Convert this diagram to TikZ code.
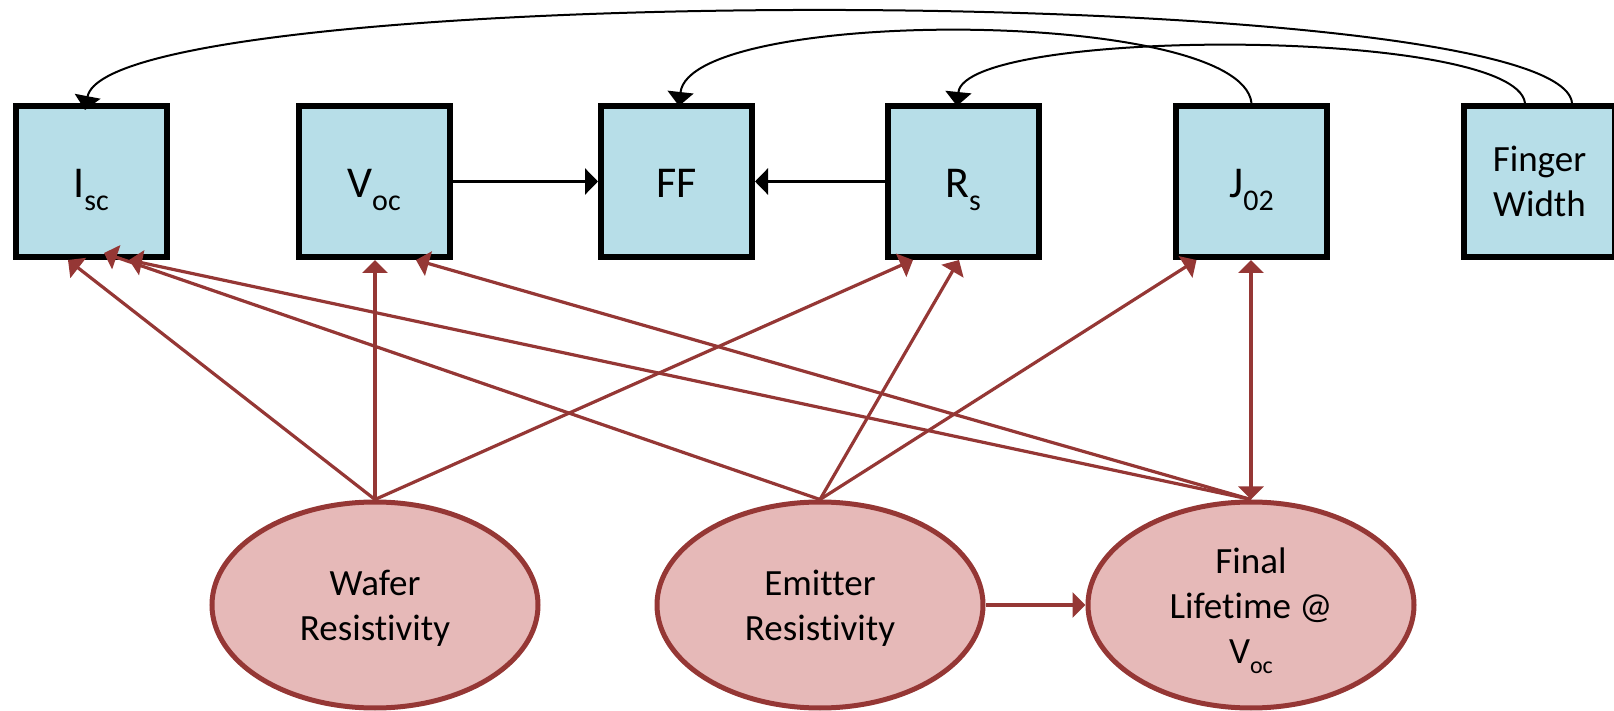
\documentclass[tikz,border=0pt]{standalone}
\usepackage{fontspec}
\setmainfont[Ligatures=NoCommon]{Carlito}
\usetikzlibrary{arrows.meta,shapes.geometric}
\definecolor{boxfill}{HTML}{B7DEE8}
\definecolor{redline}{HTML}{953735}
\definecolor{ellfill}{HTML}{E6B9B8}
\newcommand\subB[1]{\raisebox{-6.5pt}{\fontsize{15pt}{15pt}\selectfont #1}}
\newcommand\subE[1]{\raisebox{-5pt}{\fontsize{12pt}{12pt}\selectfont #1}}
\begin{document}
\begin{tikzpicture}[x=0.5pt,y=-0.5pt,
  boxbase/.style={draw=black, line width=3pt, fill=boxfill, rectangle,
    minimum width=75.5pt, minimum height=75.5pt, inner sep=0pt},
  varbox/.style={boxbase, font=\fontsize{22pt}{26pt}\selectfont,
    text height=16.5pt, text depth=0pt},
  varboxml/.style={boxbase, font=\fontsize{18.5pt}{22.5pt}\selectfont, align=center},
  causeell/.style={ellipse, draw=redline, line width=2.5pt, fill=ellfill,
    minimum width=163pt, minimum height=103pt, inner sep=0pt, align=center,
    font=\fontsize{18.5pt}{22.5pt}\selectfont},
  redarr/.style={draw=redline, line width=1.6pt, -{Triangle[length=6.5pt,width=12.5pt]}},
  redboth/.style={draw=redline, line width=1.6pt, {Triangle[length=6.5pt,width=12.5pt]}-{Triangle[length=6.5pt,width=12.5pt]}},
  blkarr/.style={draw=black, line width=1.35pt, -{Triangle[length=6.5pt,width=13pt]}},
  curvarr/.style={draw=black, line width=1pt, -{Triangle[length=7pt,width=13pt]}}
]
\useasboundingbox (0,0) rectangle (1614,711);
\clip (0,0) rectangle (1614,711);

% top variables
\node[varbox] (isc) at (91,181.5) {I\subB{sc}};
\node[varbox] (voc) at (374,181.5) {V\subB{oc}};
\node[varbox] (ff) at (676.5,181.5) {FF};
\node[varbox] (rs) at (963,181.5) {R\subB{s}};
\node[varbox] (j02) at (1251.5,181.5) {J\subB{02}};
\node[varboxml] (fw) at (1539.5,181.5) {\rule{0pt}{17pt}Finger\\Width\rule[-4pt]{0pt}{4pt}};

% causes
\node[causeell] (wafer) at (375,605) {\rule{0pt}{17pt}Wafer\\Resistivity\rule[-4pt]{0pt}{4pt}};
\node[causeell] (emit) at (820,605) {\rule{0pt}{17pt}Emitter\\Resistivity\rule[-4pt]{0pt}{4pt}};
\node[causeell] (final) at (1251,605) {\rule{0pt}{19pt}Final\\Lifetime @\\V\subE{oc}\rule[-6pt]{0pt}{6pt}};

% red connectors
\draw[redarr] (wafer.north) -- ([xshift=-11.5pt]isc.south);
\draw[redarr] (wafer.north) -- (wafer.north |- voc.south);
\draw[redarr] (wafer.north) -- ([xshift=-25pt]rs.south);
\draw[redarr] (emit.north) -- ([xshift=6.5pt,yshift=3.5pt]isc.south);
\draw[redarr] (emit.north) -- ([xshift=-2pt]rs.south);
\draw[redarr] (emit.north) -- ([xshift=-27.5pt]j02.south);
\draw[redarr] (final.north) -- ([xshift=19pt]isc.south);
\draw[redarr] (final.north) -- ([xshift=21pt]voc.south);
\draw[redboth] (final.north) -- (final.north |- j02.south);
\draw[redarr] (emit) -- (final);

% black connectors
\draw[blkarr] (voc) -- (ff);
\draw[blkarr] (rs) -- (ff);
\draw[curvarr] ([xshift=16.25pt]fw.north) .. controls +(-12,-123) and +(25,-130) .. ([xshift=-3pt,yshift=-3.5pt]isc.north);
\draw[curvarr] (j02.north) .. controls +(-11,-96) and +(11,-99) .. ([xshift=1.25pt,yshift=-1.5pt]ff.north);
\draw[curvarr] ([xshift=-7.25pt]fw.north) .. controls +(-10,-76) and +(8,-79) .. ([xshift=-3pt,yshift=-1.5pt]rs.north);
\end{tikzpicture}
\end{document}
